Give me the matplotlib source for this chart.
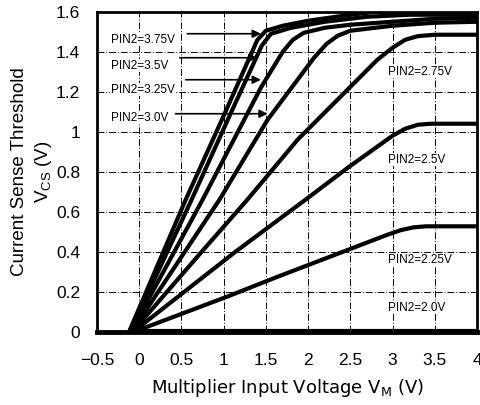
import matplotlib
matplotlib.use("Agg")
import matplotlib.pyplot as plt

plt.rcParams['font.family'] = ['Liberation Sans', 'DejaVu Sans']

# curves: (x, y) points for each PIN2 voltage
x_375 = [-0.12, 0.55, 1.0, 1.4, 1.5, 1.7, 2.0, 2.5, 2.8, 4.0]
y_375 = [0.0, 0.66, 1.08, 1.46, 1.505, 1.53, 1.555, 1.585, 1.6, 1.6]

x_350 = [-0.11, 0.62, 1.07, 1.45, 1.56, 1.8, 2.2, 2.7, 3.2, 4.0]
y_350 = [0.0, 0.66, 1.08, 1.43, 1.49, 1.52, 1.55, 1.575, 1.585, 1.585]

x_325 = [-0.1, 0.75, 1.44, 1.7, 1.82, 1.95, 2.2, 2.5, 3.0, 3.5, 4.0]
y_325 = [0.0, 0.66, 1.22, 1.4, 1.46, 1.495, 1.52, 1.535, 1.55, 1.565, 1.57]

x_300 = [-0.09, 0.95, 1.52, 2.07, 2.22, 2.35, 2.5, 3.0, 3.5, 4.0]
y_300 = [0.0, 0.66, 1.06, 1.37, 1.44, 1.48, 1.505, 1.53, 1.545, 1.55]

x_275 = [-0.08, 0.74, 1.28, 1.875, 2.82, 3.0, 3.15, 3.3, 3.5, 4.0]
y_275 = [0.0, 0.4, 0.66, 0.96, 1.36, 1.42, 1.46, 1.478, 1.485, 1.485]

x_250 = [-0.07, 1.14, 2.0, 2.47, 3.0, 3.15, 3.3, 3.45, 4.0]
y_250 = [0.0, 0.4, 0.67, 0.82, 0.98, 1.015, 1.035, 1.04, 1.04]

x_225 = [-0.06, 1.04, 1.64, 2.94, 3.1, 3.25, 3.4, 4.0]
y_225 = [0.0, 0.175, 0.275, 0.485, 0.508, 0.522, 0.527, 0.527]

x_200 = [-0.05, 4.0]
y_200 = [0.005, 0.005]

curves = [(x_375, y_375), (x_350, y_350), (x_325, y_325), (x_300, y_300),
          (x_275, y_275), (x_250, y_250), (x_225, y_225), (x_200, y_200)]

# labels on the right side
right_labels = ["PIN2=2.75V", "PIN2=2.5V", "PIN2=2.25V", "PIN2=2.0V"]
right_label_y = [1.30, 0.86, 0.36, 0.12]

# labels with arrows on the left
left_labels = ["PIN2=3.75V", "PIN2=3.5V", "PIN2=3.25V", "PIN2=3.0V"]
left_label_y = [1.46, 1.33, 1.21, 1.07]
arrow_y = [1.49, 1.37, 1.26, 1.09]
arrow_start = [0.57, 0.48, 0.55, 0.43]
arrow_end = [1.44, 1.40, 1.44, 1.52]

xticks = [-0.5, 0, 0.5, 1, 1.5, 2, 2.5, 3, 3.5, 4]
xtick_labels = ["\u22120.5", "0", "0.5", "1", "1.5", "2", "2.5", "3", "3.5", "4"]
yticks = [0, 0.2, 0.4, 0.6, 0.8, 1, 1.2, 1.4, 1.6]
ytick_labels = ["0", "0.2", "0.4", "0.6", "0.8", "1", "1.2", "1.4", "1.6"]

fig = plt.figure(figsize=(4.81, 4.05), dpi=100)
ax = fig.add_axes([0.2017, 0.181, 0.79, 0.79])

for xs, ys in curves:
    ax.plot(xs, ys, color='black', linewidth=3.0, solid_capstyle='butt',
            solid_joinstyle='round', zorder=3)

ax.set_xlim(-0.5, 4)
ax.set_ylim(0, 1.6)
ax.set_xticks(xticks)
ax.set_xticklabels(xtick_labels)
ax.set_yticks(yticks)
ax.set_yticklabels(ytick_labels)
ax.tick_params(axis='both', length=0, labelsize=12.5)
ax.tick_params(axis='x', pad=15)
ax.tick_params(axis='y', pad=12)

ax.grid(True, color='black', linewidth=0.7, linestyle=(0, (7, 2, 1, 2)))

for side in ['left', 'right', 'top']:
    ax.spines[side].set_linewidth(2.0)
ax.spines['bottom'].set_linewidth(3.5)

for label, y in zip(right_labels, right_label_y):
    ax.text(2.95, y, label, fontsize=8.5, va='center', ha='left', zorder=4,
            bbox=dict(facecolor='white', edgecolor='none', pad=0.5))

for label, y in zip(left_labels, left_label_y):
    ax.text(-0.34, y, label, fontsize=8.5, va='center', ha='left', zorder=4,
            bbox=dict(facecolor='white', edgecolor='none', pad=0.5))

for y, x0, x1 in zip(arrow_y, arrow_start, arrow_end):
    ax.annotate("", xy=(x1, y), xytext=(x0, y), zorder=4,
                arrowprops=dict(arrowstyle='-|>', color='black', lw=1.2,
                                mutation_scale=12, shrinkA=0, shrinkB=0))

ax.set_xlabel("Multiplier Input Voltage V$_\\mathregular{M}$ (V)", fontsize=13,
              family=['DejaVu Sans'], labelpad=7)
ax.set_ylabel("Current Sense Threshold\nV$_\\mathregular{CS}$ (V)", fontsize=13.5,
              linespacing=1.35)
ax.yaxis.set_label_coords(-0.112, 0.5)

fig.savefig("out.png", dpi=100)
